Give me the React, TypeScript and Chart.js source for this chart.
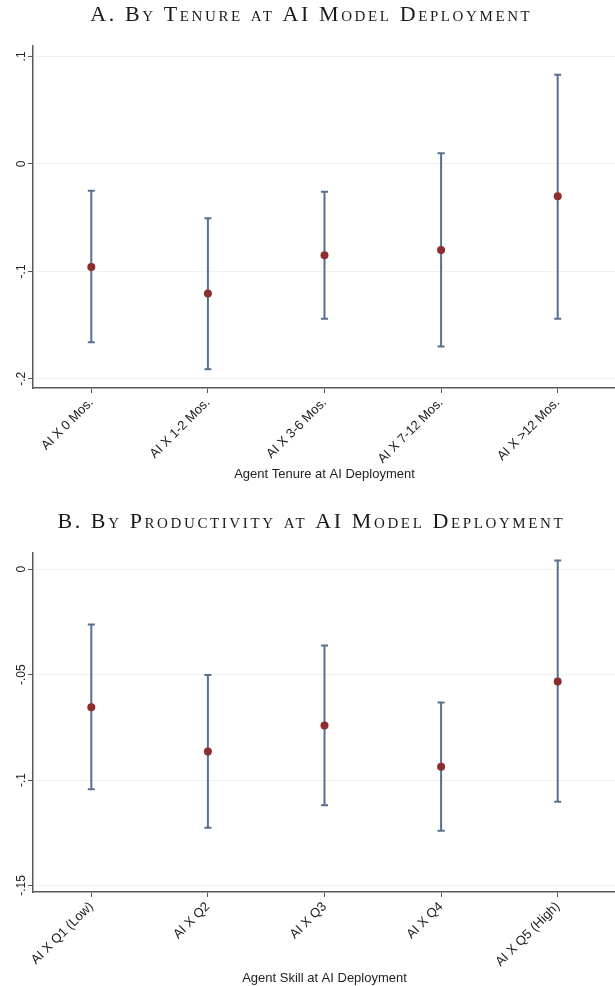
import React, { useEffect, useRef } from 'react';
import { Chart, registerables } from 'chart.js';

Chart.register(...registerables);

// ---------- Panel A data ----------
const tenureCategories = ['AI X 0 Mos.', 'AI X 1-2 Mos.', 'AI X 3-6 Mos.', 'AI X 7-12 Mos.', 'AI X >12 Mos.'];
const tenureEstimate = [-0.096, -0.1205, -0.085, -0.08, -0.030];
const tenureLower = [-0.166, -0.191, -0.144, -0.170, -0.144];
const tenureUpper = [-0.025, -0.0505, -0.026, 0.0099, 0.083];
const tenureYTicks = [0.1, 0, -0.1, -0.2];
const tenureYTickLabels = ['.1', '0', '-.1', '-.2'];

// ---------- Panel B data ----------
const skillCategories = ['AI X Q1 (Low)', 'AI X Q2', 'AI X Q3', 'AI X Q4', 'AI X Q5 (High)'];
const skillEstimate = [-0.0655, -0.0864, -0.0741, -0.0937, -0.0532];
const skillLower = [-0.1044, -0.1226, -0.112, -0.124, -0.1103];
const skillUpper = [-0.0262, -0.0502, -0.0362, -0.0632, 0.0041];
const skillYTicks = [0, -0.05, -0.1, -0.15];
const skillYTickLabels = ['0', '-.05', '-.1', '-.15'];

const SANS = "'Liberation Sans', Arial, sans-serif";
const SERIF = "'Liberation Serif', 'DejaVu Serif', serif";
const AXIS_COLOR = '#5a5a5a';
const GRID_COLOR = '#eaf2f2';
const BAR_COLOR = '#57708f';
const POINT_COLOR = '#8c2e2e';

const errorBarPlugin = {
  id: 'errorBars',
  beforeDatasetsDraw(chart: any, _args: any, opts: any) {
    const { ctx, scales } = chart;
    const x = scales.x;
    const y = scales.y;
    ctx.save();
    ctx.strokeStyle = opts.color;
    ctx.lineWidth = opts.width;
    const cap = opts.cap;
    (opts.lower as number[]).forEach((lo, i) => {
      const hi = opts.upper[i];
      const px = x.getPixelForValue(i);
      const yl = y.getPixelForValue(lo);
      const yh = y.getPixelForValue(hi);
      ctx.beginPath();
      ctx.moveTo(px, yl);
      ctx.lineTo(px, yh);
      ctx.moveTo(px - cap, yl);
      ctx.lineTo(px + cap, yl);
      ctx.moveTo(px - cap, yh);
      ctx.lineTo(px + cap, yh);
      ctx.stroke();
    });
    ctx.restore();
  },
};

const yLabelPlugin = {
  id: 'yLabels',
  afterDraw(chart: any, _args: any, opts: any) {
    const { ctx, scales } = chart;
    const y = scales.y;
    ctx.save();
    ctx.fillStyle = opts.color;
    ctx.font = `${opts.size}px ${SANS}`;
    ctx.textAlign = 'center';
    ctx.textBaseline = 'middle';
    (opts.values as number[]).forEach((v, i) => {
      const py = y.getPixelForValue(v);
      ctx.save();
      ctx.translate(opts.x, py);
      ctx.rotate(-Math.PI / 2);
      ctx.fillText(opts.labels[i], 0, 0);
      ctx.restore();
    });
    ctx.restore();
  },
};

const smallCapsTitlePlugin = {
  id: 'scTitle',
  afterDraw(chart: any, _args: any, opts: any) {
    const { ctx } = chart;
    ctx.save();
    ctx.fillStyle = opts.color;
    ctx.font = `small-caps ${opts.size}px ${SERIF}`;
    (ctx as any).letterSpacing = `${opts.spacing}px`;
    ctx.textAlign = 'center';
    ctx.textBaseline = 'middle';
    ctx.fillText(opts.text, opts.x + opts.spacing / 2, opts.y);
    ctx.restore();
  },
};

function makeConfig(p: any) {
  return {
    type: 'line',
    data: {
      labels: p.categories,
      datasets: [
        {
          data: p.estimate,
          showLine: false,
          pointRadius: 4,
          pointHoverRadius: 4,
          pointBackgroundColor: POINT_COLOR,
          pointBorderColor: POINT_COLOR,
          pointBorderWidth: 0,
          borderColor: POINT_COLOR,
        },
      ],
    },
    options: {
      responsive: false,
      animation: false,
      events: [],
      layout: { padding: { top: p.plotTop, left: 0, right: 0, bottom: 0 } },
      plugins: {
        legend: { display: false },
        tooltip: { enabled: false },
        title: { display: false },
        scTitle: { text: p.title, x: 310, y: p.titleY, size: 22, spacing: 2.6, color: '#1a1a1a' },
        errorBars: { lower: p.lower, upper: p.upper, color: BAR_COLOR, width: 2, cap: 3.5 },
        yLabels: { values: p.yTicks, labels: p.yLabels, x: 22, size: 12, color: '#222' },
      },
      scales: {
        x: {
          type: 'category',
          offset: true,
          afterFit: (s: any) => { s.height = p.xHeight; },
          grid: { drawOnChartArea: false, drawTicks: true, tickLength: 5, tickColor: AXIS_COLOR, offset: false },
          border: { color: AXIS_COLOR, width: 1.5 },
          ticks: {
            autoSkip: false,
            minRotation: 45,
            maxRotation: 45,
            padding: 2,
            color: '#222',
            font: { family: SANS, size: 13 },
          },
          title: {
            display: true,
            text: p.xTitle,
            color: '#222',
            font: { family: SANS, size: 13 },
            padding: { top: 0, bottom: p.xTitleBottom },
          },
        },
        y: {
          type: 'linear',
          min: p.yMin,
          max: p.yMax,
          afterFit: (s: any) => { s.width = 33; },
          afterBuildTicks: (s: any) => { s.ticks = p.yTicks.map((v: number) => ({ value: v })); },
          grid: { color: GRID_COLOR, lineWidth: 1, drawTicks: true, tickLength: 5, tickColor: AXIS_COLOR },
          border: { color: AXIS_COLOR, width: 1.5 },
          ticks: { display: false, includeBounds: false },
        },
      },
    },
    plugins: [errorBarPlugin, yLabelPlugin, smallCapsTitlePlugin],
  };
}

function Panel(props: any) {
  const ref = useRef<HTMLCanvasElement | null>(null);
  useEffect(() => {
    if (!ref.current) return;
    const chart = new Chart(ref.current, makeConfig(props.cfg) as any);
    return () => chart.destroy();
  }, []);
  return (
    <div style={{ position: 'absolute', left: 0, top: props.top, width: 620, height: 493 }}>
      <canvas ref={ref} width={620} height={493} style={{ display: 'block' }} />
    </div>
  );
}

export default function App() {
  const panelA = {
    title: 'A. By Tenure at AI Model Deployment',
    xTitle: 'Agent Tenure at AI Deployment',
    categories: tenureCategories,
    estimate: tenureEstimate,
    lower: tenureLower,
    upper: tenureUpper,
    yTicks: tenureYTicks,
    yLabels: tenureYTickLabels,
    yMin: -0.2085,
    yMax: 0.1097,
    titleY: 15,
    plotTop: 46,
    xHeight: 105,
    xTitleBottom: 11,
  };
  const panelB = {
    title: 'B. By Productivity at AI Model Deployment',
    xTitle: 'Agent Skill at AI Deployment',
    categories: skillCategories,
    estimate: skillEstimate,
    lower: skillLower,
    upper: skillUpper,
    yTicks: skillYTicks,
    yLabels: skillYTickLabels,
    yMin: -0.1531,
    yMax: 0.0077,
    titleY: 29,
    plotTop: 60,
    xHeight: 94,
    xTitleBottom: 0,
  };
  return (
    <div style={{ position: 'absolute', left: 0, top: 0, width: 615, height: 986, overflow: 'hidden', background: '#fff' }}>
      <Panel cfg={panelA} top={0} />
      <Panel cfg={panelB} top={493} />
    </div>
  );
}
